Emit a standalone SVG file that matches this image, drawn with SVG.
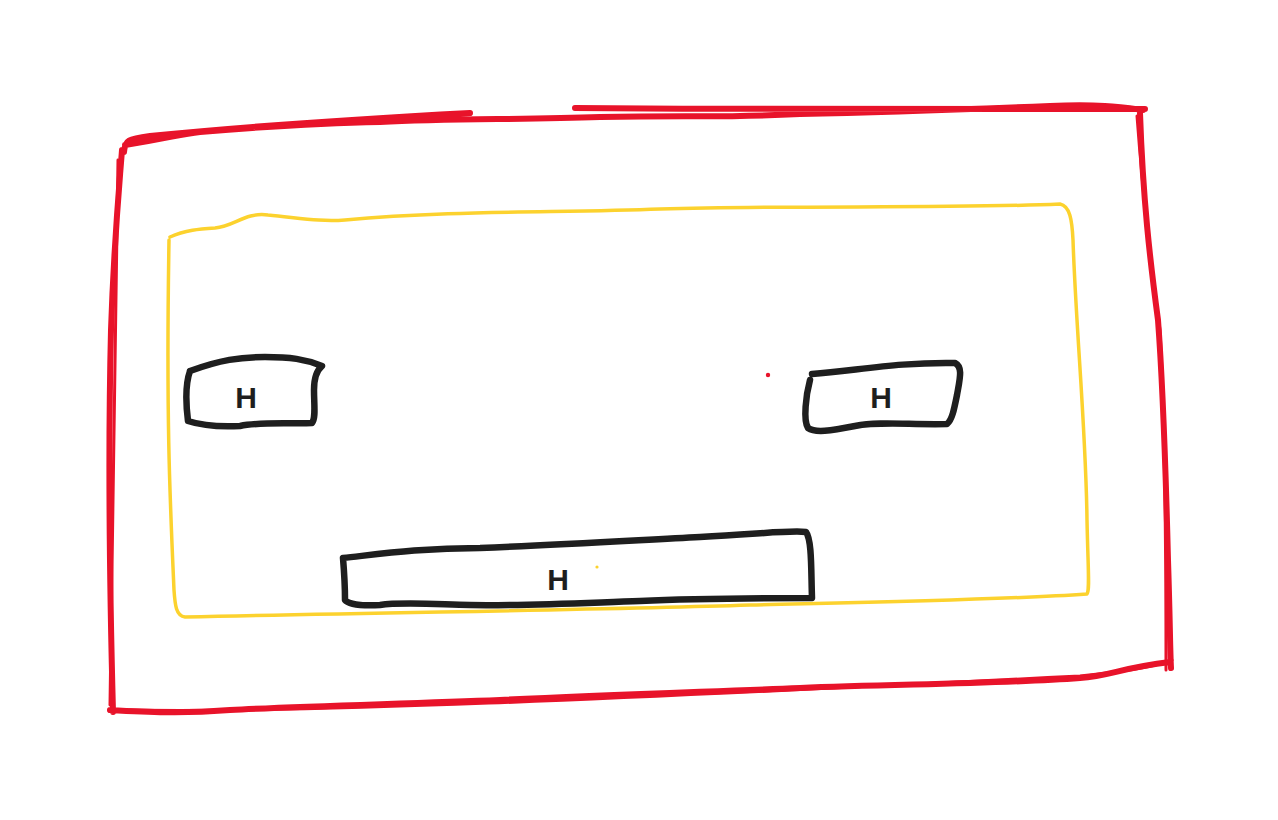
<svg xmlns="http://www.w3.org/2000/svg" width="1278" height="820" viewBox="0 0 1278 820">
<style>
.red{fill:none;stroke:#e8132a;stroke-width:6;stroke-linecap:round;stroke-linejoin:round}
.red2{fill:none;stroke:#e8132a;stroke-width:3;stroke-linecap:round;stroke-linejoin:round}
.yel{fill:none;stroke:#fcd22e;stroke-width:3.5;stroke-linecap:round;stroke-linejoin:round}
.blk{fill:none;stroke:#1e1e1e;stroke-width:6.5;stroke-linecap:round;stroke-linejoin:round}
.lbl{font-family:"Liberation Sans",Arial,sans-serif;font-weight:bold;font-size:30px;fill:#1e1e1e;text-anchor:middle}
</style>
<rect width="1278" height="820" fill="#ffffff"/>
<g id="outer">
<path class="red" d="M124,152 C125,140 128,139 150,136 C200,131 300,122 470,113 M125,145 C170,138 180,134 200,132 C260,127 320,123 380,122 C450,118 520,120 600,117 C700,115 720,118 800,114 C900,112 1000,108 1050,106 C1100,104 1120,107 1143,110 M575,108 C750,110 900,107 1145,109 M1140,113 C1143,200 1150,260 1158,320 C1164,400 1166,480 1168,560 C1170,620 1170,650 1171,668 M1170,662 C1120,668 1110,676 1080,678 C1000,684 900,684 800,688 C700,692 600,695 500,700 C400,704 300,706 230,710 C180,714 150,712 110,710 M113,712 C110,600 108,450 111,330 C114,240 119,190 122,150"/>
<path class="red2" d="M118,160 C116,300 112,500 110,705 M130,710 C300,713 600,700 1080,676 C1120,672 1150,668 1172,660 M1137,116 C1144,210 1152,270 1160,330 C1165,420 1166,540 1166,670"/>
</g>
<g id="inner">
<path class="yel" d="M170,237 C185,230 200,229 215,228 C235,226 245,212 268,215 C300,218 320,222 345,220 C450,210 560,213 660,209 C800,205 950,209 1060,204 C1070,206 1072,220 1073,240 C1076,330 1086,430 1087,520 C1088,570 1090,590 1087,594 C1000,600 880,602 750,605 C600,610 400,612 185,617 C176,616 175,605 174,590 C170,500 166,420 169,240"/>
</g>
<g id="node1">
<path class="blk" d="M190,371 C220,360 240,357 265,357 C290,357 305,359 322,366 C316,371 314,378 314,390 C314,405 316,418 312,423 C280,424 260,422 240,426 C220,427 200,425 188,421 C186,405 185,385 190,371"/>
<text class="lbl" x="246" y="408">H</text>
</g>
<g id="node2">
<path class="blk" d="M812,374 C860,370 900,362 955,363 C963,367 960,378 957,395 C954,410 952,420 947,424 C910,425 880,421 855,426 C830,431 815,433 808,428 C803,420 806,395 810,380"/>
<text class="lbl" x="881" y="408">H</text>
</g>
<g id="node3">
<path class="blk" d="M343,558 C380,554 420,548 480,548 C560,545 640,540 700,537 C760,534 790,530 806,532 C812,540 811,570 812,598 C760,598 700,598 640,601 C580,603 520,606 470,605 C430,604 400,602 380,605 C360,606 348,604 345,600 C345,585 344,570 343,558"/>
<text class="lbl" x="558" y="590">H</text>
</g>
<g id="dots">
<circle cx="768" cy="375" r="2.2" fill="#e8132a"/>
<circle cx="597" cy="567" r="1.6" fill="#fcd22e"/>
</g>
<g id="connectors"></g>
</svg>
